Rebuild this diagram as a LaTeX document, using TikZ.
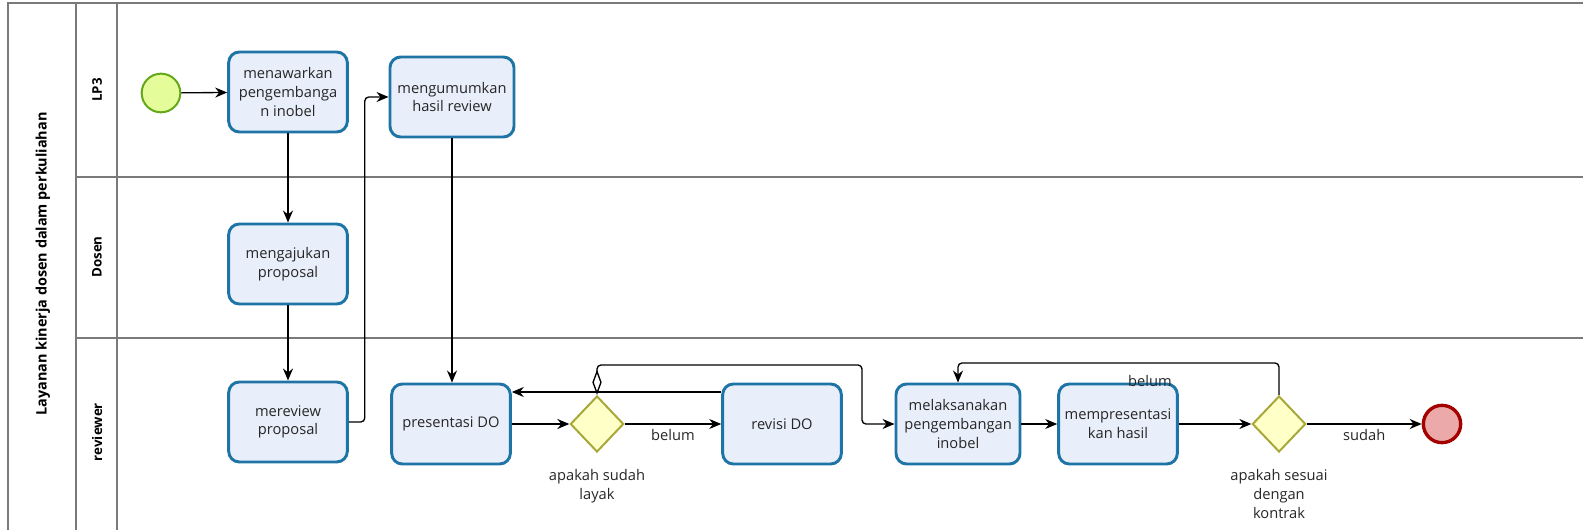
\documentclass[tikz,border=0pt]{standalone}
\usepackage{fontspec}
\setmainfont{Open Sans}
\usetikzlibrary{shapes.geometric, arrows.meta}

\definecolor{taskfill}{HTML}{E9EEFB}
\definecolor{taskline}{HTML}{1F74A6}
\definecolor{gatefill}{HTML}{FFFFC8}
\definecolor{gateline}{HTML}{A8A838}
\definecolor{startfill}{HTML}{E4FD9A}
\definecolor{startline}{HTML}{64A81A}
\definecolor{endfill}{HTML}{EBA9AA}
\definecolor{endline}{HTML}{A30000}
\definecolor{poolline}{HTML}{7A7A7A}
\definecolor{txt}{HTML}{262626}

\begin{document}
\begin{tikzpicture}[x=0.75pt, y=-0.75pt, text=txt,
  font=\fontsize{11}{14}\selectfont,
  >={Stealth[length=9pt, width=7.5pt]},
  task/.style={draw=taskline, fill=taskfill, line width=2.2pt, rounded corners=8pt,
    minimum width=89pt, minimum height=60pt, align=center, inner sep=2pt},
  gate/.style={diamond, draw=gateline, fill=gatefill, line width=1.5pt,
    minimum width=40pt, minimum height=42pt, inner sep=0pt},
  flow/.style={draw, line width=1pt, ->, rounded corners=3pt},
  lanelabel/.style={font=\fontsize{10}{12}\selectfont\bfseries, text=black, rotate=90}
]
\useasboundingbox (0,0) rectangle (1583,530);

% pool and lanes
\draw[poolline, line width=1.2pt] (8,530) |- (1583,3);
\draw[poolline, line width=1pt] (76,3) -- (76,530) (117,3) -- (117,530)
  (76,177) -- (1583,177) (76,338) -- (1583,338);
\node[lanelabel, font=\fontsize{10.8}{12}\selectfont\bfseries] (pooltitle) at (43,264) {Layanan kinerja dosen dalam perkuliahan};
\node[lanelabel] (laneLP) at (97,90) {LP3};
\node[lanelabel] (laneDosen) at (97,257) {Dosen};
\node[lanelabel] (laneReviewer) at (97,432) {reviewer};

% events
\node[circle, draw=startline, fill=startfill, line width=1.5pt, minimum size=29pt] (start) at (161,93) {};
\node[circle, draw=endline, fill=endfill, line width=2.5pt, minimum size=28pt] (finish) at (1442,424) {};

% tasks
\node[task] (offer) at (288,92) {menawarkan\\pengembanga\\n inobel};
\node[task, minimum width=93pt] (announce) at (452,97) {mengumumkan\\hasil review};
\node[task] (submit) at (288,264) {mengajukan\\proposal};
\node[task] (review) at (288,422) {mereview\\proposal};
\node[task] (presDO) at (451,424) {presentasi DO};
\node[task] (reviseDO) at (782,424) {revisi DO};
\node[task, minimum width=93pt] (execute) at (958,424) {melaksanakan\\pengembangan\\inobel};
\node[task] (presHasil) at (1118,424) {mempresentasi\\kan hasil};

% gateways
\node[gate] (gateA) at (597,424) {};
\node[gate] (gateB) at (1279,424) {};
\node[align=center] (gateAtext) at (597,486) {apakah sudah\\layak};
\node[align=center] (gateBtext) at (1279,494) {apakah sesuai\\dengan\\kontrak};

% flows
\draw[flow] (start) -- (offer);
\draw[flow] (offer) -- (submit);
\draw[flow] (submit) -- (review);
\draw[flow] (review.east) -- ++(16,0) |- (announce.west);
\draw[flow] (announce.south) -- (announce.south |- presDO.north);
\draw[flow] (presDO) -- (gateA);
\draw[flow] (gateA) -- (reviseDO) node[midway, below] (lblNoA) {belum};
\draw[flow] ([yshift=24pt]reviseDO.west) -- ([yshift=24pt]presDO.east);
\coordinate (loopA) at (862,365);
\draw[flow, {Diamond[open, fill=white, length=19pt, width=7pt]}->] (gateA.north) |- (loopA) |- (execute.west);
\draw[flow] (execute) -- (presHasil);
\draw[flow] (presHasil) -- (gateB);
\draw[flow] (gateB.north) -- ++(0,-32) -| (execute.north);
\node (lblNoB) at (1150,381) {belum};
\draw[flow] (gateB) -- (finish) node[midway, below] (lblYes) {sudah};
\end{tikzpicture}
\end{document}
